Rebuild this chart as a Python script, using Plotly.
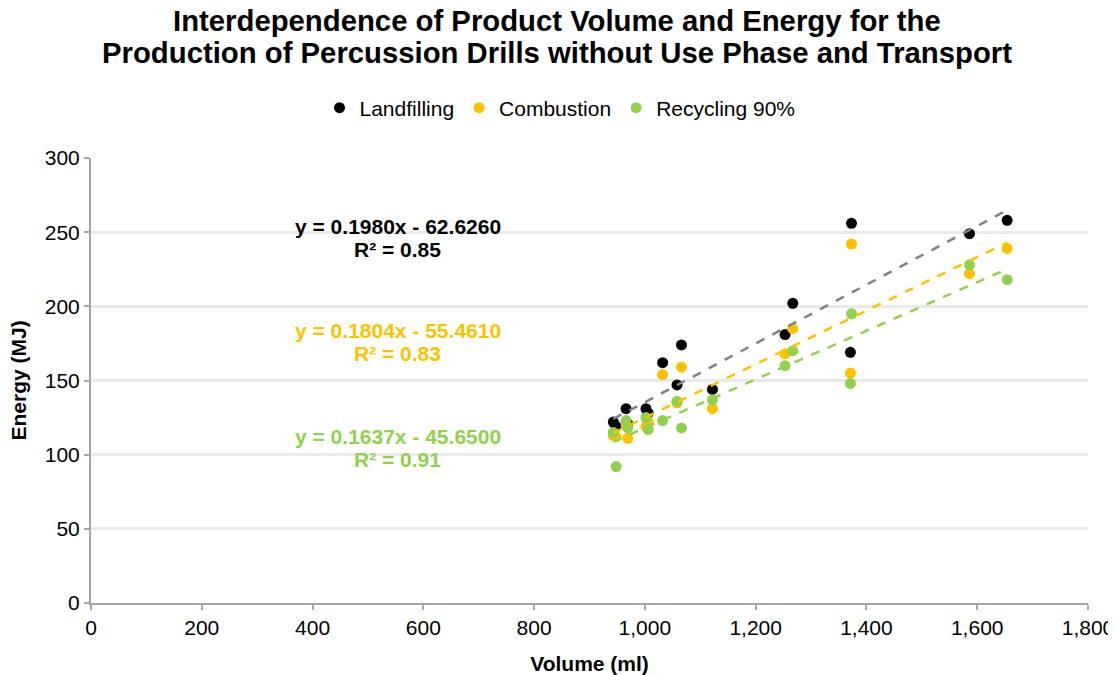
import plotly.graph_objects as go

volume = [943, 948, 966, 969, 1002, 1006, 1032, 1058, 1066, 1122, 1253, 1267, 1371, 1373, 1586, 1654]
landfilling = [122, 119, 131, 121, 131, 128, 162, 147, 174, 144, 181, 202, 169, 256, 249, 258]
combustion = [113, 112, 120, 111, 119, 122, 154, 135, 159, 131, 168, 185, 155, 242, 222, 239]
recycling = [115, 92, 123, 118, 125, 117, 123, 136, 118, 137, 160, 170, 148, 195, 228, 218]

series_names = ["Landfilling", "Combustion", "Recycling 90%"]
slopes = [0.1980, 0.1804, 0.1637]
intercepts = [-62.6260, -55.4610, -45.6500]
r2 = [0.85, 0.83, 0.91]

title_lines = ["Interdependence of Product Volume and Energy for the",
               "Production of Percussion Drills without Use Phase and Transport"]

colors = ["#000000", "#FFC000", "#92D050"]
trend_colors = ["#808080", "#FFC000", "#92D050"]
label_y = [[253.5, 238], [184, 168.5], [112, 96.5]]

FONT = "Liberation Sans, Arial, sans-serif"
FS = 21

# page has an 8px body margin: figure is shifted by 8px
W, H = 1108, 667
L, T, R, B = 83, 150, 28, 72
PH = H - T - B
PW = W - L - R

fig = go.Figure()
for name, ys, c in zip(series_names, [landfilling, combustion, recycling], colors):
    fig.add_trace(go.Scatter(x=volume, y=ys, mode="markers", name=name,
                             marker=dict(color=c, size=11)))

xmin, xmax = min(volume), max(volume)
for s, b, tc in zip(slopes, intercepts, trend_colors):
    fig.add_trace(go.Scatter(x=[xmin, xmax], y=[s * xmin + b, s * xmax + b], mode="lines",
                             line=dict(color=tc, width=2.5, dash="dash"), showlegend=False,
                             hoverinfo="skip"))

for s, b, r, c, ly in zip(slopes, intercepts, r2, colors, label_y):
    fig.add_annotation(x=554, y=ly[0], xref="x", yref="y", showarrow=False,
                       text=f"<b>y = {s:.4f}x - {abs(b):.4f}</b>",
                       font=dict(family=FONT, size=FS, color=c))
    fig.add_annotation(x=554, y=ly[1], xref="x", yref="y", showarrow=False,
                       text=f"<b>R² = {r:.2f}</b>",
                       font=dict(family=FONT, size=FS, color=c))

# title as two annotations (tighter line spacing)
for line, yp in zip(title_lines, [12, 44.5]):
    fig.add_annotation(x=(549 - L) / PW, y=(H - B - yp) / PH, xref="paper", yref="paper",
                       showarrow=False, xanchor="center", yanchor="middle",
                       text=f"<b>{line}</b>", font=dict(family=FONT, size=29.3, color="#000000"))

# y-axis title
fig.add_annotation(x=(10 - L) / PW, y=0.5, xref="paper", yref="paper", showarrow=False,
                   xanchor="center", yanchor="middle", textangle=-90,
                   text="<b>Energy (MJ)</b>", font=dict(family=FONT, size=FS, color="#000000"))

fig.update_layout(
    width=W, height=H,
    paper_bgcolor="white", plot_bgcolor="white",
    margin=dict(l=L, r=R, t=T, b=B, autoexpand=False),
    font=dict(family=FONT, size=FS, color="#000000"),
    legend=dict(orientation="h", x=(552 - L) / PW, xanchor="center",
                y=1 - 100 / H, yref="container", yanchor="middle",
                font=dict(family=FONT, size=FS), itemwidth=30, tracegroupgap=0),
    showlegend=True,
)
fig.update_xaxes(range=[0, 1800], dtick=200, tickformat=",d", showgrid=False,
                 showline=True, linecolor="#A6A6A6", linewidth=2,
                 ticks="outside", tickcolor="#A6A6A6", ticklen=5, tickwidth=2,
                 zeroline=False, automargin=False, ticklabeloverflow="allow",
                 title=dict(text="<b>Volume (ml)</b>", font=dict(family=FONT, size=FS), standoff=21),
                 tickfont=dict(family=FONT, size=FS))
fig.update_yaxes(range=[0, 300], dtick=50, showgrid=True, gridcolor="#EAEAEA", gridwidth=2.5,
                 showline=True, linecolor="#A6A6A6", linewidth=2,
                 ticks="outside", tickcolor="#A6A6A6", ticklen=5, tickwidth=2,
                 zeroline=False, automargin=False,
                 tickfont=dict(family=FONT, size=FS))

fig.write_html("out.html")
